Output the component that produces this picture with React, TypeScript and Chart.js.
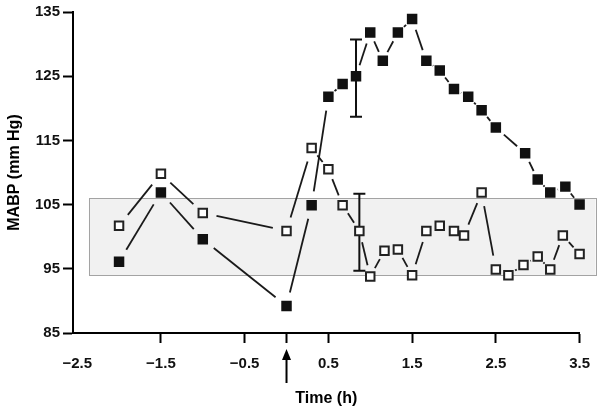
import { useEffect, useRef } from 'react';
import { Chart, registerables } from 'chart.js';

Chart.register(...registerables);

// Filled squares series
const filledTimes = [-2, -1.5, -1, 0, 0.3, 0.5, 0.67, 0.83, 1.0, 1.15, 1.33, 1.5, 1.67, 1.83, 2.0, 2.17, 2.33, 2.5, 2.85, 3.0, 3.15, 3.33, 3.5];
const filledMabp = [96.1, 106.9, 99.6, 89.2, 104.9, 121.8, 123.8, 125.0, 131.8, 127.4, 131.8, 133.9, 127.4, 125.9, 123.0, 121.8, 119.7, 117.0, 113.0, 108.9, 106.9, 107.8, 105.0];

// Open squares series
const openTimes = [-2, -1.5, -1, 0, 0.3, 0.5, 0.67, 0.87, 1.0, 1.17, 1.33, 1.5, 1.67, 1.83, 2.0, 2.12, 2.33, 2.5, 2.65, 2.83, 3.0, 3.15, 3.3, 3.5];
const openMabp = [101.7, 109.8, 103.7, 100.9, 113.8, 110.5, 104.9, 100.9, 93.8, 97.8, 98.0, 94.0, 100.9, 101.7, 100.9, 100.2, 106.9, 94.9, 94.0, 95.6, 96.9, 94.9, 100.2, 97.3];

// Error bars (time, centre, half range)
const errorTimes = [0.83, 0.87];
const errorCenters = [124.7, 100.7];
const errorHalfRanges = [6, 6];

// Normal range band
const normalLow = 94;
const normalHigh = 106;
const normalStart = -2.36;
const normalEnd = 3.69;

// Axes
const xTickValues = [-2.5, -1.5, -0.5, 0, 0.5, 1.5, 2.5, 3.5];
const xMin = -2.55;
const xMax = 3.5;
const yMin = 85;
const yMax = 135;
const yStep = 10;
const interventionTime = 0;

const FONT = 'Liberation Sans, Arial, Helvetica, sans-serif';

const drawPlugin = {
  id: 'customDraw',
  beforeDatasetsDraw(chart: any) {
    const { ctx, scales } = chart;
    const x = scales.x;
    const y = scales.y;
    ctx.save();
    // band
    const l = x.getPixelForValue(normalStart);
    const r = x.getPixelForValue(normalEnd);
    const t = y.getPixelForValue(normalHigh);
    const b = y.getPixelForValue(normalLow);
    ctx.fillStyle = '#f1f1f1';
    ctx.fillRect(l, t, r - l, b - t);
    ctx.strokeStyle = '#a3a3a3';
    ctx.lineWidth = 1;
    ctx.strokeRect(Math.round(l) + 0.5, Math.round(t) + 0.5, Math.round(r - l), Math.round(b - t));

    // connecting lines with gaps
    ctx.strokeStyle = '#1a1a1a';
    ctx.lineWidth = 1.8;
    ctx.lineCap = 'butt';
    chart.data.datasets.forEach((_: any, i: number) => {
      const pts = chart.getDatasetMeta(i).data;
      for (let k = 0; k < pts.length - 1; k++) {
        const p0 = pts[k];
        const p1 = pts[k + 1];
        const dx = p1.x - p0.x;
        const dy = p1.y - p0.y;
        const len = Math.hypot(dx, dy);
        const gap = Math.min(14, 6 + 0.12 * len);
        if (len <= 2 * gap) continue;
        const ux = dx / len;
        const uy = dy / len;
        ctx.beginPath();
        ctx.moveTo(p0.x + ux * gap, p0.y + uy * gap);
        ctx.lineTo(p1.x - ux * gap, p1.y - uy * gap);
        ctx.stroke();
      }
    });

    // error bars
    ctx.strokeStyle = '#111';
    ctx.lineWidth = 2;
    for (let i = 0; i < errorTimes.length; i++) {
      const px = x.getPixelForValue(errorTimes[i]);
      const top = y.getPixelForValue(errorCenters[i] + errorHalfRanges[i]);
      const bot = y.getPixelForValue(errorCenters[i] - errorHalfRanges[i]);
      ctx.beginPath();
      ctx.moveTo(px, top);
      ctx.lineTo(px, bot);
      ctx.moveTo(px - 6, top);
      ctx.lineTo(px + 6, top);
      ctx.moveTo(px - 6, bot);
      ctx.lineTo(px + 6, bot);
      ctx.stroke();
    }
    ctx.restore();
  },
  afterDraw(chart: any) {
    const { ctx, scales } = chart;
    const x = scales.x;
    const px = x.getPixelForValue(interventionTime);
    const tip = x.top + 16;
    const base = tip + 11;
    const tail = x.top + 50;
    ctx.save();
    ctx.fillStyle = '#000';
    ctx.strokeStyle = '#000';
    ctx.lineWidth = 2;
    ctx.beginPath();
    ctx.moveTo(px, base - 1);
    ctx.lineTo(px, tail);
    ctx.stroke();
    ctx.beginPath();
    ctx.moveTo(px, tip);
    ctx.lineTo(px - 4.5, base);
    ctx.lineTo(px + 4.5, base);
    ctx.closePath();
    ctx.fill();
    ctx.restore();
  },
};

function fmtTick(v: number): string {
  if (v === 0) return '';
  if (v < 0) return '\u2212' + Math.abs(v).toFixed(1);
  return v.toFixed(1);
}

export default function App() {
  const ref = useRef<HTMLCanvasElement | null>(null);

  useEffect(() => {
    if (!ref.current) return;
    const chart = new Chart(ref.current, {
      type: 'scatter',
      data: {
        datasets: [
          {
            label: 'filled',
            data: filledTimes.map((t, i) => ({ x: t, y: filledMabp[i] })),
            showLine: false,
            clip: false,
            pointStyle: 'rect',
            pointRadius: 6,
            pointBackgroundColor: '#111',
            pointBorderColor: '#111',
            pointBorderWidth: 2,
          },
          {
            label: 'open',
            data: openTimes.map((t, i) => ({ x: t, y: openMabp[i] })),
            showLine: false,
            clip: false,
            pointStyle: 'rect',
            pointRadius: 6,
            pointBackgroundColor: '#fff',
            pointBorderColor: '#222',
            pointBorderWidth: 2,
          },
        ],
      },
      options: {
        responsive: false,
        animation: false,
        layout: { padding: { top: 12, right: 22, bottom: 0, left: 0 } },
        plugins: { legend: { display: false }, tooltip: { enabled: false } },
        scales: {
          x: {
            type: 'linear',
            min: xMin,
            max: xMax,
            afterBuildTicks: (scale: any) => {
              scale.ticks = xTickValues.map((value) => ({ value }));
            },
            afterFit: (scale: any) => {
              scale.height = 80;
            },
            grid: {
              display: true,
              drawOnChartArea: false,
              drawTicks: true,
              tickLength: 10,
              tickWidth: 2,
              tickColor: (ctx: any) => (ctx.tick && ctx.tick.value === -2.5 ? 'rgba(0,0,0,0)' : '#000'),
              color: '#000',
            },
            border: { display: true, color: '#000', width: 2 },
            ticks: {
              autoSkip: false,
              maxRotation: 0,
              padding: 12,
              color: '#111',
              font: { family: FONT, size: 15, weight: 'bold' },
              callback: (v: any) => fmtTick(Number(v)),
            },
            title: {
              display: true,
              text: 'Time (h)',
              color: '#000',
              font: { family: FONT, size: 16, weight: 'bold' },
              padding: { top: 0, bottom: 5 },
            },
          },
          y: {
            type: 'linear',
            min: yMin,
            max: yMax,
            afterFit: (scale: any) => {
              scale.width = 73;
            },
            grid: {
              display: true,
              drawOnChartArea: false,
              drawTicks: true,
              tickLength: 10,
              tickWidth: 2,
              tickColor: '#000',
              color: '#000',
            },
            border: { display: true, color: '#000', width: 2 },
            ticks: {
              stepSize: yStep,
              padding: 3,
              color: '#111',
              font: { family: FONT, size: 15, weight: 'bold' },
            },
            title: {
              display: true,
              text: 'MABP (mm Hg)',
              color: '#000',
              font: { family: FONT, size: 16, weight: 'bold' },
              padding: { top: 5, bottom: 0 },
            },
          },
        },
      },
      plugins: [drawPlugin],
    } as any);
    return () => chart.destroy();
  }, []);

  return (
    <div style={{ position: 'fixed', left: 0, top: 0, width: 602, height: 413, background: '#fff' }}>
      <canvas ref={ref} width={602} height={413} style={{ display: 'block' }} />
    </div>
  );
}
